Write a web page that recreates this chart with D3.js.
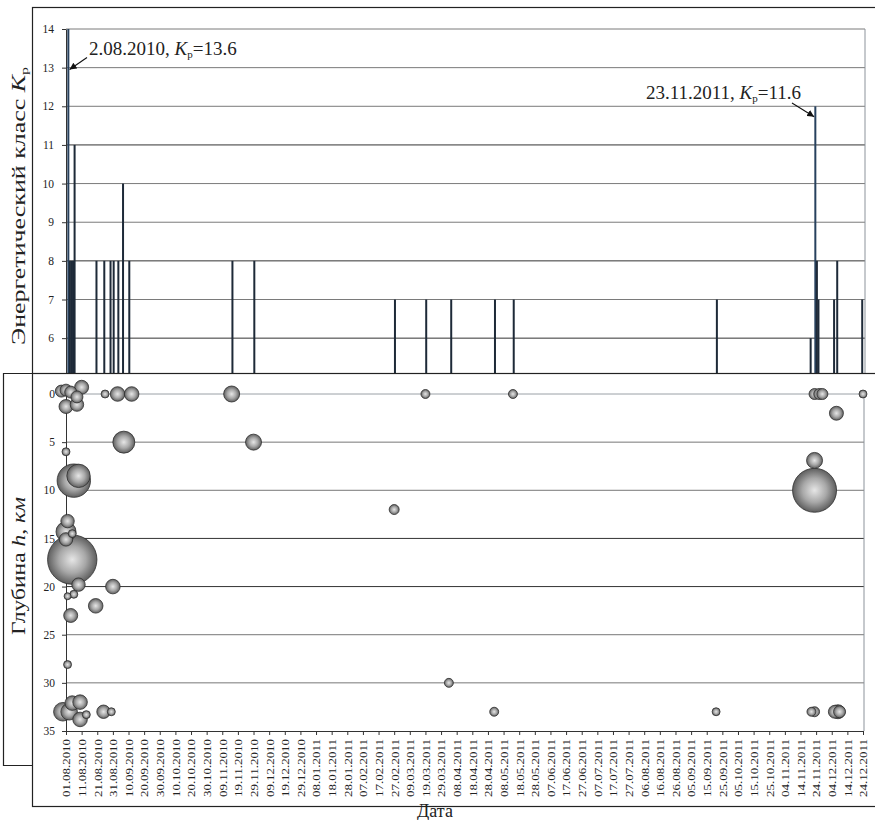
<!DOCTYPE html>
<html><head><meta charset="utf-8">
<script src="https://cdn.jsdelivr.net/npm/d3@7"></script>
<style>
body{margin:0;background:#fff}
svg{display:block}
text{font-family:"Liberation Serif","Times New Roman",serif;fill:#222}
</style>
</head><body>
<svg id="c" width="875" height="820"></svg>
<script>
// ---------- DATA ----------
const tickLabels = ["01.08.2010","11.08.2010","21.08.2010","31.08.2010","10.09.2010","20.09.2010","30.09.2010","10.10.2010","20.10.2010","30.10.2010","09.11.2010","19.11.2010","29.11.2010","09.12.2010","19.12.2010","29.12.2010","08.01.2011","18.01.2011","28.01.2011","07.02.2011","17.02.2011","27.02.2011","09.03.2011","19.03.2011","29.03.2011","08.04.2011","18.04.2011","28.04.2011","08.05.2011","18.05.2011","28.05.2011","07.06.2011","17.06.2011","27.06.2011","07.07.2011","17.07.2011","27.07.2011","06.08.2011","16.08.2011","26.08.2011","05.09.2011","15.09.2011","25.09.2011","05.10.2011","15.10.2011","25.10.2011","04.11.2011","14.11.2011","24.11.2011","04.12.2011","14.12.2011","24.12.2011"];

const kTicks = [5,6,7,8,9,10,11,12,13,14];
const depthTicks = [0,5,10,15,20,25,30,35];

// energy class bars
const barDates = ["2010-08-02","2010-08-03","2010-08-04","2010-08-05","2010-08-06","2010-08-20","2010-08-25","2010-08-29","2010-08-31","2010-09-03","2010-09-06","2010-09-10","2010-11-15","2010-11-29","2011-02-27","2011-03-19","2011-04-04","2011-05-02","2011-05-14","2011-09-21","2011-11-20","2011-11-23","2011-11-24","2011-11-25","2011-12-05","2011-12-07","2011-12-23"];
const barK     = [14,8,8,8,11,8,8,8,8,8,10,8,8,8,7,7,7,7,7,7,6,12,8,7,7,8,7];

// depth bubbles
const bubDates = ["2010-07-29","2010-08-01","2010-08-04","2010-08-08","2010-08-11","2010-08-01","2010-08-08","2010-08-26","2010-09-03","2010-09-12","2010-11-15","2010-11-29","2010-09-07","2010-08-01","2010-08-06","2010-08-09","2010-08-02","2010-08-01","2010-08-05","2010-08-01","2010-08-05","2010-08-09","2010-08-31","2010-08-02","2010-08-06","2010-08-20","2010-08-04","2010-08-02","2010-07-30","2010-08-03","2010-08-05","2010-08-10","2010-08-10","2010-08-14","2010-08-25","2010-08-30","2011-02-27","2011-03-19","2011-04-03","2011-05-02","2011-05-14","2011-09-21","2011-11-23","2011-11-26","2011-11-28","2011-12-24","2011-12-07","2011-11-23","2011-11-23","2011-11-21","2011-11-23","2011-12-06","2011-12-08","2011-12-09"];
const bubDepth = [-0.3,-0.4,-0.2,0.3,-0.7,1.3,1.1,0,0,0,0,5,5,6,9,8.5,13.2,14.3,14.5,15.1,17.2,19.8,20,21,20.8,22,23,28.1,33,33,32.1,32,33.8,33.3,33,33,12,0,30,33,0,33,0,0,0,0,2,6.9,10,33,33,33,33,33];
const bubSize  = [5.9,5.9,5.9,5.9,8.0,8.0,7.4,2.6,8.7,8.7,10.5,10.5,19.8,2.6,45.7,22.4,7.4,16.4,2.6,7.4,100,7.4,8.7,2.0,2.6,8.7,8.0,2.6,14.2,11.3,8.7,8.7,8.7,2.6,7.4,2.6,4.1,3.3,3.3,3.3,3.3,2.6,5.0,5.0,5.0,2.6,8.0,10.5,79.3,3.3,4.1,6.9,8.0,5.9];

// ---------- SETUP ----------
const svg = d3.select("#c");
const parse = d3.utcParse("%Y-%m-%d");
const parseTick = d3.utcParse("%d.%m.%Y");
const fmtTick = d3.utcFormat("%d.%m.%Y");
const tickDates = tickLabels.map(parseTick);

const x = d3.scaleUtc().domain([tickDates[0], tickDates[tickDates.length-1]]).range([66, 863]);
const dayW = x(d3.utcDay.offset(tickDates[0], 1)) - x(tickDates[0]);
const yK = d3.scaleLinear().domain([5, 14]).range([376.8, 29]);
const yD = d3.scaleLinear().domain([0, 35]).range([394, 731]);
const rS = d3.scaleSqrt().domain([0, 100]).range([0, 24.7]);

const defs = svg.append("defs");
const grad = defs.append("radialGradient").attr("id","bub").attr("cx","50%").attr("cy","50%").attr("r","50%");
grad.append("stop").attr("offset","0%").attr("stop-color","#e6e6e6");
grad.append("stop").attr("offset","55%").attr("stop-color","#a8a8a8");
grad.append("stop").attr("offset","100%").attr("stop-color","#5e5e5e");
defs.append("marker").attr("id","arr").attr("viewBox","0 0 10 10").attr("refX",10).attr("refY",5)
  .attr("markerWidth",7).attr("markerHeight",7).attr("orient","auto-start-reverse").attr("markerUnits","userSpaceOnUse")
  .append("path").attr("d","M0,0 L10,5 L0,10 z").attr("fill","#111");

// ---------- TOP CHART (energy class) ----------
const gTop = svg.append("g");
gTop.append("rect").attr("x",32.5).attr("y",7.5).attr("width",860).attr("height",380)
  .attr("fill","#fff").attr("stroke","#222").attr("stroke-width",1.2);

gTop.append("g").selectAll("line").data(kTicks.filter(k=>k>5)).join("line")
  .attr("x1",66).attr("x2",865).attr("y1",d=>yK(d)).attr("y2",d=>yK(d))
  .attr("stroke",d=> (d===11||d===8||d===6) ? "#333" : "#7a7a7a").attr("stroke-width",1);
gTop.append("line").attr("x1",865).attr("x2",865).attr("y1",yK(14)).attr("y2",yK(5))
  .attr("stroke","#8c939b").attr("stroke-width",1);

const bars = barDates.map((d,i)=>({date:parse(d), k:barK[i]}));
gTop.append("g").selectAll("rect").data(bars).join("rect")
  .attr("x",d=>x(d.date)+dayW/2-1).attr("width",2)
  .attr("y",d=>yK(d.k)).attr("height",d=>yK(5)-yK(d.k))
  .attr("fill",d=>d.k>=12 ? "#27415e" : "#1e2a38");

const ay1 = gTop.append("g").attr("transform","translate(66,0)")
  .call(d3.axisLeft(yK).tickValues(kTicks).tickSize(4).tickSizeOuter(0).tickPadding(8));
ay1.select(".domain").attr("stroke","#333");
ay1.selectAll(".tick line").attr("stroke","#333");
ay1.selectAll("text").attr("font-size","11.5px").attr("font-family","Liberation Serif").attr("fill","#222");

// annotations
function kpText(g, tx, ty, pre, post){
  const t = g.append("text").attr("x",tx).attr("y",ty).attr("font-size","19px");
  t.append("tspan").text(pre);
  t.append("tspan").attr("font-style","italic").text("K");
  t.append("tspan").attr("font-size","11px").attr("dy",3).text("р");
  t.append("tspan").attr("dy",-3).text(post);
  return t;
}
const b1 = bars[0], b2 = bars[barK.indexOf(12)];
kpText(gTop, 89, 55, "2.08.2010, ", "=13.6");
gTop.append("line").attr("x1",87).attr("y1",57.5).attr("x2",x(b1.date)+dayW/2+1.2).attr("y2",yK(12.95))
  .attr("stroke","#111").attr("stroke-width",1.1).attr("marker-end","url(#arr)");
kpText(gTop, 646, 99, "23.11.2011, ", "=11.6");
gTop.append("line").attr("x1",792).attr("y1",103).attr("x2",x(b2.date)+dayW/2-1.2).attr("y2",yK(11.73))
  .attr("stroke","#111").attr("stroke-width",1.1).attr("marker-end","url(#arr)");

// y title top
const t1 = gTop.append("text").attr("transform","translate(25,206) rotate(-90)")
  .attr("text-anchor","middle").attr("font-size","18px").attr("textLength",278).attr("lengthAdjust","spacingAndGlyphs");
t1.append("tspan").text("Энергетический класс ");
t1.append("tspan").attr("font-style","italic").text("K");
t1.append("tspan").attr("font-size","11px").attr("dy",3).text("р");

// ---------- BOTTOM CHART (depth) ----------
const gBot = svg.append("g");
gBot.append("rect").attr("x",3.5).attr("y",373.5).attr("width",880).attr("height",392)
  .attr("fill","#fff").attr("stroke","none");
gBot.append("rect").attr("x",32.5).attr("y",373.5).attr("width",860).attr("height",433)
  .attr("fill","#fff").attr("stroke","#222").attr("stroke-width",1.2);
gBot.append("path").attr("d","M32.5,765.5 H3.5 V373.5 H880").attr("fill","none")
  .attr("stroke","#222").attr("stroke-width",1.2);

gBot.append("g").selectAll("line").data(depthTicks.filter(d=>d<35)).join("line")
  .attr("x1",66).attr("x2",864).attr("y1",d=>yD(d)).attr("y2",d=>yD(d))
  .attr("stroke",d=> d===0 ? "#9aa0a6" : (d===15||d===20) ? "#333" : "#777").attr("stroke-width",1);
gBot.append("line").attr("x1",864).attr("x2",864).attr("y1",yD(0)).attr("y2",yD(35))
  .attr("stroke","#8c939b").attr("stroke-width",1);

const ay2 = gBot.append("g").attr("transform","translate(66,0)")
  .call(d3.axisLeft(yD).tickValues(depthTicks).tickSize(4).tickSizeOuter(0).tickPadding(7));
ay2.select(".domain").attr("stroke","#333");
ay2.selectAll(".tick line").attr("stroke","#333");
ay2.selectAll("text").attr("font-size","11.5px").attr("font-family","Liberation Serif").attr("fill","#222");

const ax = gBot.append("g").attr("transform",`translate(0,${yD(35)})`)
  .call(d3.axisBottom(x).tickValues(tickDates).tickFormat(fmtTick).tickSize(4).tickSizeOuter(0));
ax.select(".domain").attr("stroke","#333");
ax.selectAll(".tick line").attr("stroke","#333");
ax.selectAll("text").attr("font-size","11px").attr("font-family","Liberation Serif").attr("fill","#222")
  .attr("transform","rotate(-90)").attr("x",-8).attr("y",0).attr("dy","0.35em")
  .attr("text-anchor","end").attr("textLength",58).attr("lengthAdjust","spacingAndGlyphs");

const bubbles = bubDates.map((d,i)=>({date:parse(d), depth:bubDepth[i], size:bubSize[i]}))
  .sort((a,b)=>b.size-a.size);
gBot.append("g").selectAll("circle").data(bubbles).join("circle")
  .attr("cx",d=>x(d.date)).attr("cy",d=>yD(d.depth)).attr("r",d=>rS(d.size))
  .attr("fill","url(#bub)").attr("stroke","#2e2e2e").attr("stroke-width",0.8);

// y title bottom
const t2 = gBot.append("text").attr("transform","translate(25,566) rotate(-90)")
  .attr("text-anchor","middle").attr("font-size","18px").attr("textLength",138).attr("lengthAdjust","spacingAndGlyphs");
t2.append("tspan").text("Глубина ");
t2.append("tspan").attr("font-style","italic").text("h");
t2.append("tspan").text(", ");
t2.append("tspan").attr("font-style","italic").text("км");

// x title
gBot.append("text").attr("x",435).attr("y",817).attr("text-anchor","middle").attr("font-size","18px").text("Дата");
</script>
</body></html>
